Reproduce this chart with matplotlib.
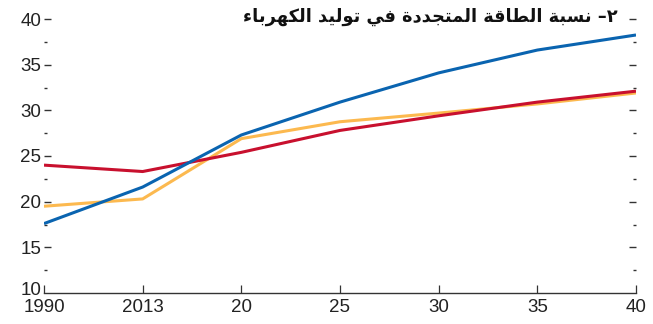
import matplotlib
matplotlib.use("Agg")
import matplotlib.pyplot as plt
from matplotlib.ticker import MultipleLocator
from matplotlib.transforms import ScaledTranslation

# ---- data -------------------------------------------------------------
years = ["1990", "2013", "20", "25", "30", "35", "40"]
blue_values = [17.6, 21.6, 27.3, 30.9, 34.1, 36.6, 38.25]
red_values = [24.0, 23.3, 25.4, 27.8, 29.4, 30.9, 32.1]
orange_values = [19.5, 20.3, 26.9, 28.75, 29.7, 30.7, 31.9]
title_text = "٢– نسبة الطاقة المتجددة في توليد الكهرباء"
y_ticks = [10, 15, 20, 25, 30, 35, 40]

BLUE = "#0a64b0"
RED = "#c8102e"
ORANGE = "#fcb94f"

# ---- minimal Arabic shaping (presentation forms + visual order) -------
# letter: (isolated, final, initial, medial); two-form letters join on the right only
FORMS = {
    "ا": (0xFE8D, 0xFE8E, None, None),
    "ب": (0xFE8F, 0xFE90, 0xFE91, 0xFE92),
    "ة": (0xFE93, 0xFE94, None, None),
    "ت": (0xFE95, 0xFE96, 0xFE97, 0xFE98),
    "ج": (0xFE9D, 0xFE9E, 0xFE9F, 0xFEA0),
    "د": (0xFEA9, 0xFEAA, None, None),
    "ر": (0xFEAD, 0xFEAE, None, None),
    "س": (0xFEB1, 0xFEB2, 0xFEB3, 0xFEB4),
    "ط": (0xFEC1, 0xFEC2, 0xFEC3, 0xFEC4),
    "ف": (0xFED1, 0xFED2, 0xFED3, 0xFED4),
    "ق": (0xFED5, 0xFED6, 0xFED7, 0xFED8),
    "ك": (0xFED9, 0xFEDA, 0xFEDB, 0xFEDC),
    "ل": (0xFEDD, 0xFEDE, 0xFEDF, 0xFEE0),
    "م": (0xFEE1, 0xFEE2, 0xFEE3, 0xFEE4),
    "ن": (0xFEE5, 0xFEE6, 0xFEE7, 0xFEE8),
    "ه": (0xFEE9, 0xFEEA, 0xFEEB, 0xFEEC),
    "و": (0xFEED, 0xFEEE, None, None),
    "ي": (0xFEF1, 0xFEF2, 0xFEF3, 0xFEF4),
    "ء": (0xFE80, None, None, None),
}


def joins_next(ch):
    f = FORMS.get(ch)
    return f is not None and f[2] is not None


def joins_prev(ch):
    f = FORMS.get(ch)
    return f is not None and f[1] is not None


def shape_word(word):
    out = []
    for i, ch in enumerate(word):
        if ch not in FORMS:
            out.append(ch)
            continue
        prev_link = i > 0 and joins_next(word[i - 1]) and joins_prev(ch)
        next_link = i < len(word) - 1 and joins_next(ch) and joins_prev(word[i + 1])
        iso, fin, ini, med = FORMS[ch]
        if prev_link and next_link:
            code = med
        elif prev_link:
            code = fin
        elif next_link:
            code = ini
        else:
            code = iso
        out.append(chr(code))
    return "".join(out)


def visual_rtl(text):
    words = text.split(" ")
    shaped = [shape_word(w)[::-1] for w in words]
    return " ".join(reversed(shaped))


tick_family = ["Liberation Sans", "DejaVu Sans"]

# ---- figure ------------------------------------------------------------
fig = plt.figure(figsize=(6.53, 3.24), dpi=100)
ax = fig.add_axes([44 / 653, 31 / 324, (636 - 44) / 653, (293 - 19) / 324])

x = list(range(len(years)))
ax.plot(x, orange_values, color=ORANGE, lw=2.2, solid_capstyle="butt", zorder=2)
ax.plot(x, red_values, color=RED, lw=2.2, solid_capstyle="butt", zorder=3)
ax.plot(x, blue_values, color=BLUE, lw=2.2, solid_capstyle="butt", zorder=4)

ax.set_xlim(0, len(years) - 1)
ax.set_ylim(10, 40)
ax.set_xticks(x)
ax.set_xticklabels(years)
ax.set_yticks(y_ticks)
ax.yaxis.set_minor_locator(MultipleLocator(2.5))

for side in ("top", "left", "right"):
    ax.spines[side].set_visible(False)
ax.spines["bottom"].set_color("#333333")
ax.spines["bottom"].set_linewidth(1.0)

ax.tick_params(axis="x", direction="in", length=5.5, width=0.9, color="#333333",
               pad=4, labelsize=13.5)
ax.tick_params(axis="y", which="major", direction="in", length=5, width=1.0,
               color="#333333", left=True, right=True, pad=2, labelsize=13.5)
ax.tick_params(axis="y", which="minor", direction="in", length=2, width=1.0,
               color="#333333", left=True, right=True)

for lab in ax.get_xticklabels() + ax.get_yticklabels():
    lab.set_family(tick_family)
    lab.set_color("#222222")

# the spine already marks 10 at the bottom corners
ax.get_yticklines()[0].set_visible(False)
ax.get_yticklines()[1].set_visible(False)

# lift the "10" label a little so it clears the "1990" label below it
bottom_label = ax.yaxis.get_major_ticks()[0].label1
bottom_label.set_transform(bottom_label.get_transform()
                           + ScaledTranslation(0, 3 / 72, fig.dpi_scale_trans))

fig.text(618 / 653, 1 - 17 / 324, visual_rtl(title_text), ha="right", va="center",
         fontsize=12.8, fontweight="bold", family=["DejaVu Sans"], color="#111111")

fig.savefig("out.png", dpi=100)
